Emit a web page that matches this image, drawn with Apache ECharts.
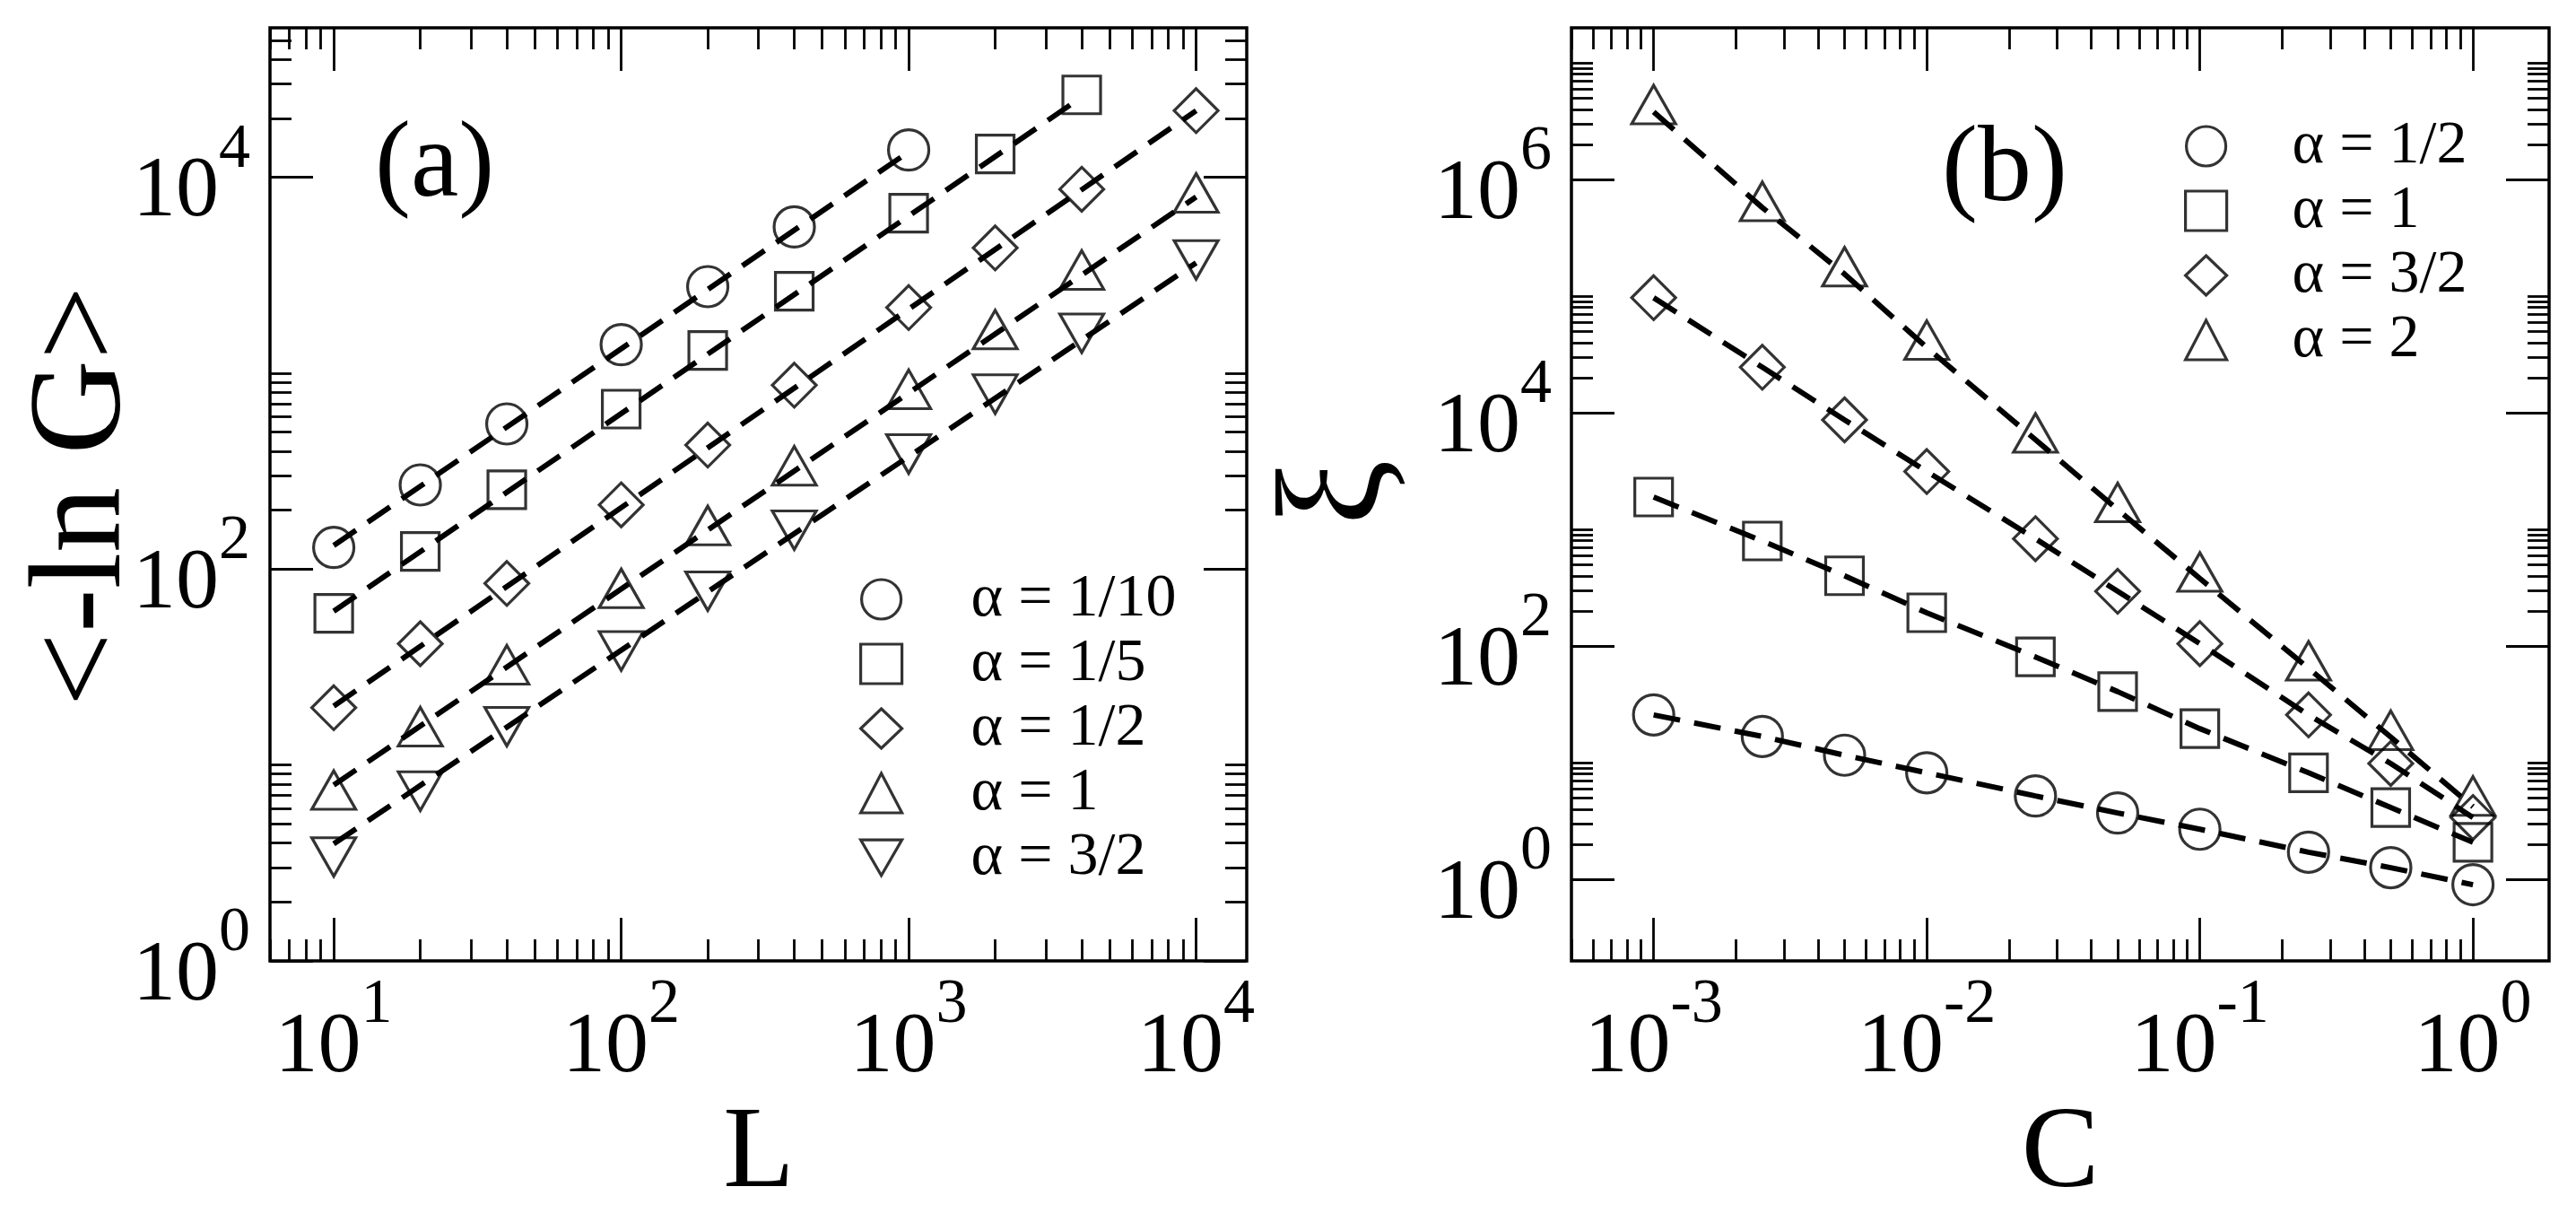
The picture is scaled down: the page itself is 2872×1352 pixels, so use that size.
<!DOCTYPE html>
<html>
<head>
<meta charset="utf-8">
<script src="https://cdn.jsdelivr.net/npm/echarts@6/dist/echarts.min.js"></script>
<style>
html,body{margin:0;padding:0;background:#fff;}
#c{width:2872px;height:1352px;}
</style>
</head>
<body>
<div id="c"></div>
<script>
// ---------- data : panel (a) ----------
const L_vals = [10, 20, 40, 100, 200, 400, 1000, 2000, 4000, 10000];
const lnG_a010 = [129, 269, 551, 1400, 2767, 5585, 13800];
const lnG_a020 = [59.5, 123, 254, 656, 1306, 2620, 6560, 13150, 26360];
const lnG_a050 = [19.6, 41.6, 84.5, 213, 430, 869, 2163, 4365, 8690, 21900];
const lnG_a100 = [7.45, 15.7, 32.5, 79.8, 167, 337, 828, 1671, 3365, 8330];
const lnG_a150 = [3.39, 7.35, 15.7, 38.2, 77.1, 158, 387, 782, 1600, 3790];
// dashed fit lines (end points)
const fitA_L_a010 = [10, 1000],  fitA_G_a010 = [132, 13490];
const fitA_L_a020 = [10, 4000],  fitA_G_a020 = [61, 25700];
const fitA_L_a050 = [10, 10000], fitA_G_a050 = [20, 21900];
const fitA_L_a100 = [10, 10000], fitA_G_a100 = [7.9, 7940];
const fitA_L_a150 = [10, 10000], fitA_G_a150 = [3.96, 3660];
const legendA = ['α = 1/10', 'α = 1/5', 'α = 1/2', 'α = 1', 'α = 3/2'];

// ---------- data : panel (b) ----------
const C_vals = [0.001, 0.0025, 0.005, 0.01, 0.025, 0.05, 0.1, 0.25, 0.5, 1];
const xi_a05 = [25.7, 16.8, 11.6, 8.2, 5.19, 3.71, 2.69, 1.71, 1.26, 0.90];
const xi_a10 = [1897, 796, 401, 193, 80.8, 40.7, 19.6, 8.2, 4.13, 2.08];
const xi_a15 = [97000, 24600, 8700, 3140, 833, 295, 105, 25.7, 9.85, 3.39];
const xi_a20 = [4390000, 650000, 179000, 42000, 6730, 1706, 432, 74.8, 19.0, 5.19];
const fitB_a20 = [3800000, 575000, 155000, 36300, 5890, 1480, 380, 64.6, 16.6, 4.2];
const legendB = ['α = 1/2', 'α = 1', 'α = 3/2', 'α = 2'];

// ---------- tick positions ----------
const tickA_xMajor = [10, 100, 1000, 10000];
const tickA_yMajor = [1, 100, 10000];
const tickB_xMajor = [0.001, 0.01, 0.1, 1];
const tickB_yMajor = [1, 100, 10000, 1000000];

function minorSet(decadeStarts, lo, hi) {
  const out = [];
  decadeStarts.forEach(d => { for (let m = 2; m <= 10; m++) { const v = +(m * d).toPrecision(6); if (v >= lo && v <= hi) out.push(v); } });
  return out;
}
const tickA_xMinor = minorSet([1, 10, 100, 1000], 6, 15000).filter(v => tickA_xMajor.indexOf(v) < 0);
const tickA_yMinor = minorSet([1, 100, 10000], 1, 58000);
const tickB_xMinor = minorSet([0.0001, 0.001, 0.01, 0.1], 0.0005, 1.9).filter(v => tickB_xMajor.indexOf(v) < 0);
const tickB_yMinor = minorSet([1, 100, 10000, 1000000], 0.2, 2e7);

const FONT = '"Liberation Serif", "Times New Roman", serif';
const zip = (xs, ys) => ys.map((y, i) => [xs[i], y]);

const chart = echarts.init(document.getElementById('c'), null, {renderer: 'canvas', width: 2872, height: 1352});

const richLab = {
  b: {fontSize: 96, fontFamily: FONT, color: '#000', verticalAlign: 'bottom'},
  s: {fontSize: 70, fontFamily: FONT, color: '#000', verticalAlign: 'top', padding: [0, 0, 61, 0]}
};
const supFmt = v => '{b|10}{s|' + Math.round(Math.log10(v)) + '}';

function mkAxis(gridIndex, pos, min, max, ticks, len, labels, margin) {
  return {
    type: 'log', logBase: 10, gridIndex, position: pos, min, max,
    axisLine: {show: false},
    splitLine: {show: false},
    minorTick: {show: false},
    axisTick: {show: true, inside: true, length: len, customValues: ticks,
               lineStyle: {color: '#000', width: 2.8}},
    axisLabel: labels ? {show: true, customValues: labels, formatter: supFmt, rich: richLab,
                         margin, hideOverlap: false}
                      : {show: false}
  };
}

const xAxes = [
  mkAxis(0, 'bottom', 6, 15000, tickA_xMajor, 48, tickA_xMajor, 15),
  mkAxis(0, 'top', 6, 15000, tickA_xMajor, 48, null),
  mkAxis(0, 'bottom', 6, 15000, tickA_xMinor, 24, null),
  mkAxis(0, 'top', 6, 15000, tickA_xMinor, 24, null),
  mkAxis(1, 'bottom', 0.0005, 1.9, tickB_xMajor, 48, tickB_xMajor, 15),
  mkAxis(1, 'top', 0.0005, 1.9, tickB_xMajor, 48, null),
  mkAxis(1, 'bottom', 0.0005, 1.9, tickB_xMinor, 24, null),
  mkAxis(1, 'top', 0.0005, 1.9, tickB_xMinor, 24, null)
];
const yAxes = [
  mkAxis(0, 'left', 1, 58000, tickA_yMajor, 48, tickA_yMajor, 22),
  mkAxis(0, 'right', 1, 58000, tickA_yMajor, 48, null),
  mkAxis(0, 'left', 1, 58000, tickA_yMinor, 24, null),
  mkAxis(0, 'right', 1, 58000, tickA_yMinor, 24, null),
  mkAxis(1, 'left', 0.2, 2e7, tickB_yMajor, 48, tickB_yMajor, 22),
  mkAxis(1, 'right', 0.2, 2e7, tickB_yMajor, 48, null),
  mkAxis(1, 'left', 0.2, 2e7, tickB_yMinor, 24, null),
  mkAxis(1, 'right', 0.2, 2e7, tickB_yMinor, 24, null)
];

const mk = {color: 'rgba(0,0,0,0)', borderColor: '#000', borderWidth: 3.2};
const downTri = 'path://M0,0L10,0L5,8.66Z';
const dash = {color: '#000', width: 6, type: [30, 16]};

function scatter(name, xi, yi, xs, ys, symbol, size) {
  return {type: 'scatter', name, xAxisIndex: xi, yAxisIndex: yi, data: zip(xs, ys),
          symbol, symbolSize: size, itemStyle: mk, z: 2, silent: true};
}
function fitLine(xi, yi, xs, ys) {
  return {type: 'line', xAxisIndex: xi, yAxisIndex: yi, data: zip(xs, ys), symbol: 'none',
          showSymbol: false, lineStyle: dash, z: 3, silent: true};
}

const series = [
  scatter('a|' + legendA[0], 0, 0, L_vals, lnG_a010, 'circle', 45),
  scatter('a|' + legendA[1], 0, 0, L_vals, lnG_a020, 'rect', 42),
  scatter('a|' + legendA[2], 0, 0, L_vals, lnG_a050, 'diamond', 49),
  scatter('a|' + legendA[3], 0, 0, L_vals, lnG_a100, 'triangle', [49, 43]),
  scatter('a|' + legendA[4], 0, 0, L_vals, lnG_a150, downTri, [49, 43]),
  fitLine(0, 0, fitA_L_a010, fitA_G_a010),
  fitLine(0, 0, fitA_L_a020, fitA_G_a020),
  fitLine(0, 0, fitA_L_a050, fitA_G_a050),
  fitLine(0, 0, fitA_L_a100, fitA_G_a100),
  fitLine(0, 0, fitA_L_a150, fitA_G_a150),
  scatter('b|' + legendB[0], 4, 4, C_vals, xi_a05, 'circle', 45),
  scatter('b|' + legendB[1], 4, 4, C_vals, xi_a10, 'rect', 42),
  scatter('b|' + legendB[2], 4, 4, C_vals, xi_a15, 'diamond', 49),
  scatter('b|' + legendB[3], 4, 4, C_vals, xi_a20, 'triangle', [49, 43]),
  fitLine(4, 4, C_vals, xi_a05),
  fitLine(4, 4, C_vals, xi_a10),
  fitLine(4, 4, C_vals, xi_a15),
  fitLine(4, 4, C_vals, fitB_a20)
];

function mkLegend(names, prefix, left, top, gap, padLeft) {
  return {
    show: true, orient: 'vertical', left, top, padding: 0, itemGap: gap,
    itemWidth: 46, itemHeight: 44, selectedMode: false,
    data: names.map(n => prefix + n),
    formatter: n => n.split('|')[1],
    itemStyle: {color: 'rgba(0,0,0,0)', borderColor: '#000', borderWidth: 3.2},
    textStyle: {fontSize: 68, fontFamily: FONT, color: '#000', lineHeight: 44,
                padding: [0, 0, 0, padLeft]}
  };
}

const txt = (text, x, y, size, rot, align) => ({
  type: 'text', x, y, rotation: rot || 0, silent: true,
  style: {text, fontSize: size, fontFamily: FONT, fill: '#000',
          align: align || 'center', verticalAlign: 'middle',
          textAlign: align || 'center', textVerticalAlign: 'middle'}
});

chart.setOption({
  animation: false,
  backgroundColor: '#fff',
  grid: [
    {left: 301, top: 31, width: 1089, height: 1040, show: true, borderColor: '#000', borderWidth: 3.5,
     backgroundColor: 'rgba(0,0,0,0)', containLabel: false, outerBoundsMode: 'none'},
    {left: 1752, top: 31, width: 1090, height: 1040, show: true, borderColor: '#000', borderWidth: 3.5,
     backgroundColor: 'rgba(0,0,0,0)', containLabel: false, outerBoundsMode: 'none'}
  ],
  xAxis: xAxes,
  yAxis: yAxes,
  legend: [
    mkLegend(legendA, 'a|', 958, 634, 4, 72),
    mkLegend(legendB, 'b|', 2435, 129, 4, 68)
  ],
  graphic: [
    txt('<-ln G>', 95, 553, 146, Math.PI / 2),
    txt('ξ', 1494, 549, 165, Math.PI / 2),
    txt('L', 846, 1288, 130),
    txt('C', 2297, 1288, 130),
    txt('(a)', 418, 186, 120, 0, 'left'),
    txt('(b)', 2165, 191, 120, 0, 'left')
  ],
  series
});
</script>
</body>
</html>
